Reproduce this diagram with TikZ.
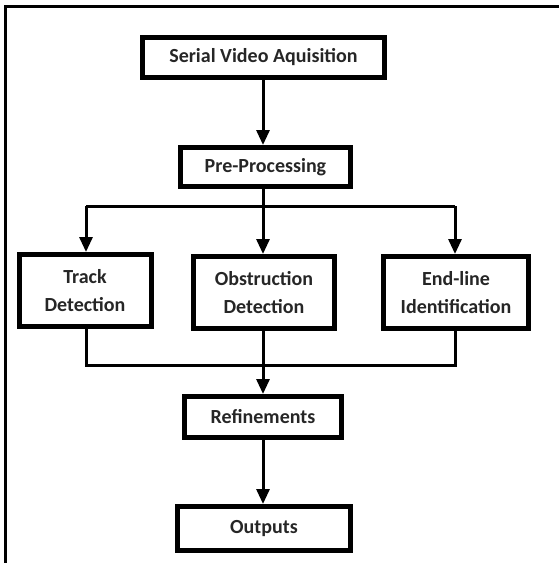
\documentclass[tikz,border=0pt]{standalone}
\usepackage{fontspec}
\setmainfont{Carlito}
\usetikzlibrary{arrows.meta,shadows}
\tikzset{
  box/.style={draw=black, line width=5pt, fill=white, align=center, inner sep=0pt,
    font=\fontsize{20}{28}\selectfont\bfseries, text=black!85,
    drop shadow={shadow xshift=2.5pt, shadow yshift=-2.5pt, opacity=0.35, fill=black}},
  conn/.style={line width=3pt},
  arr/.style={line width=3pt, -{Triangle[width=13pt,length=15pt]}},
  frame/.style={line width=3.2pt}
}
\begin{document}
\begin{tikzpicture}[x=1pt,y=-1pt]
\useasboundingbox (0,0) rectangle (559,563);
\draw[frame] (5.5,563) -- (5.5,6.5) -- (559,6.5);
\node[box, minimum width=242pt, minimum height=40pt] (sva) at (263.5,57.5) {Serial Video Aquisition};
\node[box, minimum width=170pt, minimum height=39pt] (pre) at (265.5,167) {Pre-Processing};
\node[box, minimum width=132pt, minimum height=72pt] (track) at (85,290.5) {Track\\Detection};
\node[box, minimum width=141pt, minimum height=72pt] (obs) at (264,292.5) {Obstruction\\Detection};
\node[box, minimum width=145pt, minimum height=72pt] (endl) at (456,292.5) {End-line\\Identification};
\node[box, minimum width=157pt, minimum height=41pt] (ref) at (263,417) {Refinements};
\node[box, minimum width=173pt, minimum height=44pt] (out) at (264,528.5) {Outputs};
\coordinate (split) at (263,206);
\coordinate (merge) at (263,365);
\coordinate (tx) at (86,0);
\coordinate (ox) at (263,0);
\coordinate (ex) at (455,0);
\draw[arr] (ox |- sva.south) -- (ox |- pre.north);
\draw[arr] (ox |- pre.south) -- (ox |- obs.north);
\draw[conn] (tx |- split) -- (ex |- split);
\draw[arr] (tx |- split) -- (tx |- track.north);
\draw[arr] (ex |- split) -- (ex |- endl.north);
\draw[conn] (tx |- track.south) -- (tx |- merge) -- (ex |- merge) -- (ex |- endl.south);
\draw[arr] (ox |- obs.south) -- (ox |- ref.north);
\draw[arr] (ox |- ref.south) -- (ox |- out.north);
\end{tikzpicture}
\end{document}
